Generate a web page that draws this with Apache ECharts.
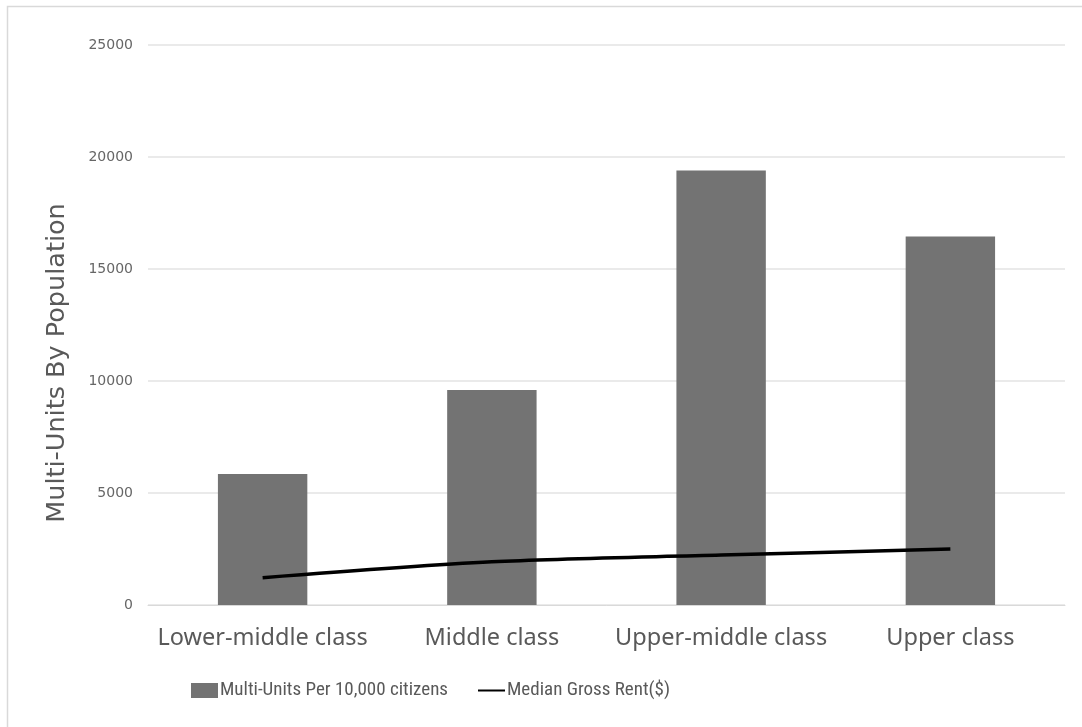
<!DOCTYPE html>
<html>
<head>
<meta charset="utf-8">
<script src="https://cdn.jsdelivr.net/npm/echarts@6/dist/echarts.min.js"></script>
<style>
  html, body { margin: 0; padding: 0; background: #ffffff; }
  #chart { width: 1082px; height: 727px; }
</style>
</head>
<body>
<div id="chart"></div>
<script>
// Income groups along the x axis
const categories = ['Lower-middle class', 'Middle class', 'Upper-middle class', 'Upper class'];
// Multi-unit housing per 10,000 citizens (bars)
const multiUnits = [5850, 9600, 19400, 16450];
// Median gross rent in dollars (line)
const medianRent = [1220, 1930, 2230, 2500];
// Value axis ticks
const yTicks = [0, 5000, 10000, 15000, 20000, 25000];

const chart = echarts.init(document.getElementById('chart'), null, { renderer: 'canvas' });

chart.setOption({
  backgroundColor: '#ffffff',
  animation: false,
  graphic: [{
    type: 'rect',
    shape: { x: 7.5, y: 6.5, width: 1200, height: 800 },
    style: { fill: 'none', stroke: '#d9d9d9', lineWidth: 1.5 },
    silent: true
  }],
  grid: { left: 148, right: 17, top: 45, bottom: 122 },
  legend: {
    bottom: 22,
    left: 186,
    itemGap: 29,
    itemWidth: 27,
    itemHeight: 15,
    textStyle: { color: '#595959', fontSize: 19, fontFamily: 'Liberation Sans Narrow, Roboto Condensed, sans-serif', padding: [0, 0, 0, -3] },
    data: [
      { name: 'Multi-Units Per 10,000 citizens', icon: 'rect' },
      { name: 'Median Gross Rent($)', itemStyle: { opacity: 0 } }
    ]
  },
  xAxis: {
    type: 'category',
    data: categories,
    axisLine: { show: true, lineStyle: { color: '#d9d9d9', width: 1 } },
    axisTick: { show: false },
    axisLabel: { color: '#595959', fontSize: 23.5, fontFamily: 'Noto Sans, sans-serif', margin: 21, interval: 0 }
  },
  yAxis: {
    type: 'value',
    min: yTicks[0],
    max: yTicks[yTicks.length - 1],
    interval: yTicks[1] - yTicks[0],
    name: 'Multi-Units By Population',
    nameLocation: 'middle',
    nameGap: 78,
    nameRotate: 90,
    nameTextStyle: { color: '#595959', fontSize: 25.5, fontFamily: 'DejaVu Sans, sans-serif', padding: [0, 76, 0, 0] },
    axisLine: { show: false },
    axisTick: { show: false },
    axisLabel: {
      color: '#666666',
      fontSize: 14,
      fontFamily: 'DejaVu Sans, sans-serif',
      margin: 15,
      formatter: v => String(v)
    },
    splitLine: { lineStyle: { color: '#e3e3e3', width: 1.5 } }
  },
  series: [
    {
      name: 'Multi-Units Per 10,000 citizens',
      type: 'bar',
      data: multiUnits,
      barWidth: '39%',
      itemStyle: { color: '#737373' }
    },
    {
      name: 'Median Gross Rent($)',
      type: 'line',
      data: medianRent,
      smooth: 0.3,
      symbol: 'none',
      lineStyle: { color: '#000000', width: 3.5 },
      itemStyle: { color: '#000000' }
    }
  ]
});
</script>
</body>
</html>
